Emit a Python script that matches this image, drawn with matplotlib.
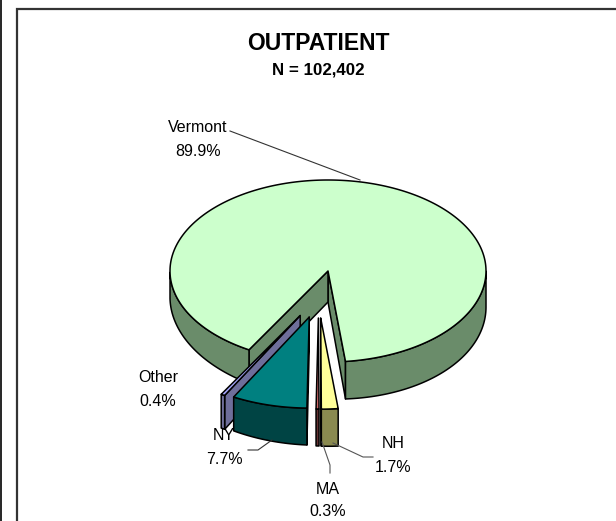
import numpy as np
import matplotlib
matplotlib.use('Agg')
import matplotlib.pyplot as plt
from matplotlib.patches import Polygon

# ---- data ----
categories = ['Vermont', 'NH', 'MA', 'NY', 'Other']
shares = [89.9, 1.7, 0.3, 7.7, 0.4]
pct_labels = ['89.9%', '1.7%', '0.3%', '7.7%', '0.4%']
title_text = 'OUTPATIENT'
subtitle_text = 'N = 102,402'

# ---- style ----
top_colors = ['#CCFFCC', '#FFFF99', '#CC6666', '#008080', '#A8A8FF']
side_colors = ['#6A8C6A', '#8A8A50', '#663333', '#004444', '#6E6E9A']
explode = [0.0, 0.52, 0.52, 0.52, 0.52]

W, H = 616, 521
fig = plt.figure(figsize=(W / 100, H / 100), dpi=100)
ax = fig.add_axes([0, 0, 1, 1])
ax.set_xlim(0, W)
ax.set_ylim(H, 0)
ax.axis('off')

FONT = 'Liberation Sans'
cx, cy, rx, ry = 328.0, 271.0, 158.0, 91.0
start = 240.0 + 360.0  # clockwise start


def depth(t, r):
    tr = np.radians(t)
    return 31.0 + r * (5.0 * np.cos(tr) - 6.0 * np.sin(tr))


def pt(ox, oy, t, r=1.0):
    tr = np.radians(t)
    return ox + rx * r * np.cos(tr), oy - ry * r * np.sin(tr)


lw = 1.1
slices = []
a = start
for s in shares:
    hi = a
    lo = a - s * 3.6
    slices.append((lo, hi))
    a = lo


def draw_slice(i, z):
    lo, hi = slices[i]
    mid = (lo + hi) / 2
    d = 258.0 + 0.45 * (((mid % 360)) - 258.0)
    e = explode[i]
    ox = cx + rx * e * np.cos(np.radians(d))
    oy = cy - ry * e * np.sin(np.radians(d))
    top_c, side_c = top_colors[i], side_colors[i]

    def side(t):
        x1, y1 = pt(ox, oy, t)
        poly = [(ox, oy), (x1, y1), (x1, y1 + depth(t, 1)), (ox, oy + depth(t, 0))]
        ax.add_patch(Polygon(poly, closed=True, facecolor=side_c, edgecolor='black',
                             lw=lw, joinstyle='round', zorder=z))
    if np.cos(np.radians(lo)) > 0:
        side(lo)
    if np.cos(np.radians(hi)) < 0:
        side(hi)
    # outer wall
    ts = np.linspace(lo, hi, 400)
    vis = np.sin(np.radians(ts)) < 0
    segs, cur = [], []
    for t, v in zip(ts, vis):
        if v:
            cur.append(t)
        elif cur:
            segs.append(cur)
            cur = []
    if cur:
        segs.append(cur)
    for seg in segs:
        seg = np.array(seg)
        xs, ys = pt(ox, oy, seg)
        yb = ys + depth(seg, 1)
        poly = list(zip(xs, ys)) + list(zip(xs[::-1], yb[::-1]))
        ax.add_patch(Polygon(poly, closed=True, facecolor=side_c, edgecolor='black',
                             lw=lw, joinstyle='round', zorder=z + 0.1))
    # top face
    xs, ys = pt(ox, oy, ts)
    poly = [(ox, oy)] + list(zip(xs, ys))
    ax.add_patch(Polygon(poly, closed=True, facecolor=top_c, edgecolor='black',
                         lw=lw, joinstyle='round', zorder=z + 0.2))


# painter's order: Vermont, Other, NY, MA, NH
for z, i in enumerate([0, 4, 3, 2, 1]):
    draw_slice(i, 2 + z)

# frame
ax.plot([16.5, 16.5, W + 5], [H + 5, 8.5, 8.5], color='#333333', lw=1.6,
        solid_joinstyle='miter', zorder=1)
ax.plot([0.8, 0.8], [0, H], color='black', lw=1.2, zorder=1)

# titles
ax.text(318, 44, title_text, ha='center', va='center', fontsize=16.5,
        fontweight='bold', family=FONT)
ax.text(318, 70, subtitle_text, ha='center', va='center', fontsize=12.2,
        fontweight='bold', family=FONT)

# labels: (category index, x, y of name line)
label_pos = {0: (198, 128), 4: (158, 378), 3: (224, 436), 2: (328, 489), 1: (393, 444)}
for i, (x, y) in label_pos.items():
    ax.text(x, y, categories[i], ha='center', va='center', fontsize=11.5, family=FONT)
    ax.text(x, y + 23, pct_labels[i], ha='center', va='center', fontsize=11.5, family=FONT)

# leader lines
lc = '#333333'
ax.plot([230, 360], [131, 180], color=lc, lw=0.8, zorder=10)
ax.plot([248, 258, 272], [450, 450, 440], color=lc, lw=0.8, zorder=10)
ax.plot([333, 363, 373], [443, 457, 457], color='#555555', lw=0.8, zorder=10)
ax.plot([322, 330, 330], [442, 465, 473], color='#555555', lw=0.8, zorder=10)

fig.savefig('out.png', dpi=100)
